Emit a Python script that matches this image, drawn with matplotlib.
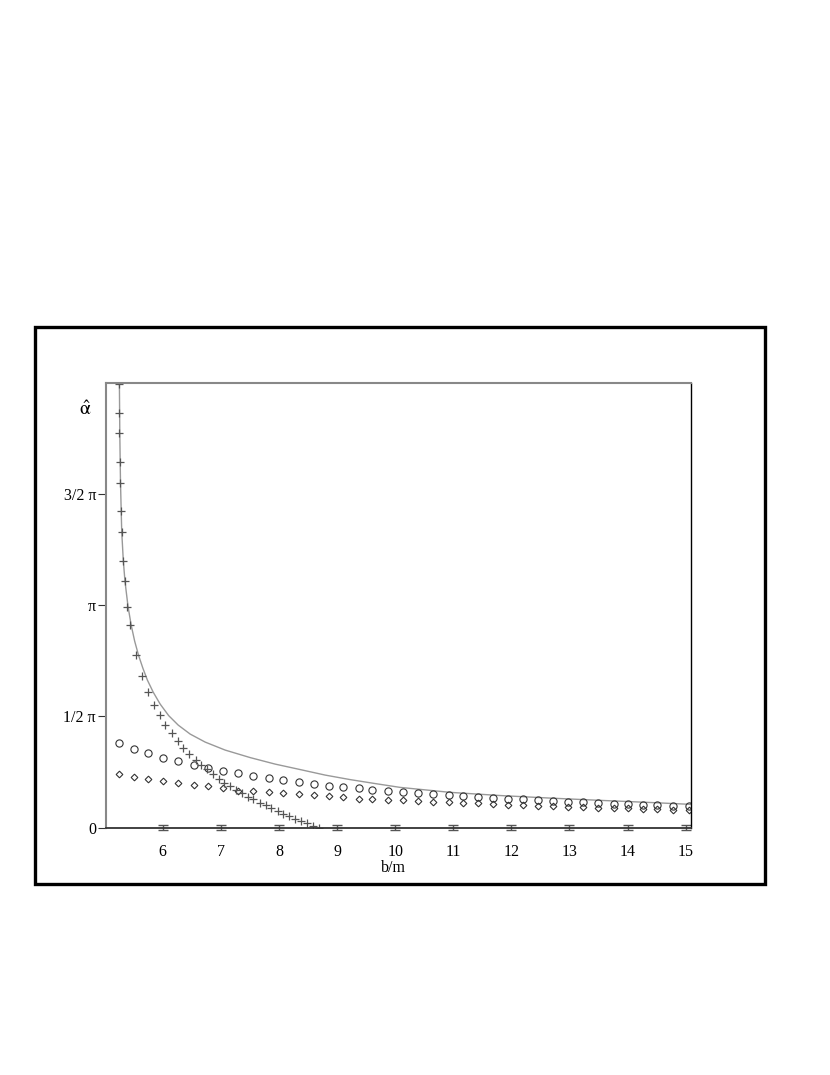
# -*- coding: utf-8 -*-
"""
Deflection angle vs impact parameter b/m : exact curve and approximations
"""
import numpy as np
import matplotlib
matplotlib.use('Agg')
import matplotlib.pyplot as plt
from matplotlib.patches import Rectangle

plt.rcParams['font.family'] = ['Liberation Serif', 'DejaVu Serif']
plt.rcParams['mathtext.fontset'] = 'stix'

'''Data read off the picture (b in units of m, alpha in rad)'''
curve_b = [5.252, 5.255, 5.262, 5.274, 5.295, 5.322, 5.351, 5.403, 5.458, 5.518,
           5.584, 5.659, 5.737, 5.837, 5.957, 6.103, 6.267, 6.473, 6.731, 7.075,
           7.505, 7.935, 8.365, 8.795, 9.226, 9.656, 10.086, 10.946, 11.806, 12.666,
           13.526, 14.386, 15.092]
curve_alpha = [6.60, 6.273, 5.568, 4.876, 4.184, 3.775, 3.479, 3.126, 2.858, 2.632,
               2.434, 2.251, 2.082, 1.912, 1.743, 1.581, 1.447, 1.320, 1.207, 1.094,
               0.988, 0.896, 0.819, 0.741, 0.677, 0.621, 0.567, 0.497, 0.452, 0.416,
               0.384, 0.354, 0.327]

cross_b = [5.252, 5.252, 5.252, 5.264, 5.269, 5.281, 5.298, 5.320, 5.343, 5.394,
           5.441, 5.539, 5.642, 5.751, 5.842, 5.948, 6.048, 6.155, 6.255, 6.353,
           6.461, 6.571, 6.667, 6.757, 6.869, 6.963, 7.063, 7.161, 7.264, 7.362,
           7.466, 7.562, 7.669, 7.772, 7.870, 7.978, 8.078, 8.181, 8.285, 8.388,
           8.491, 8.594, 8.687]
cross_alpha = [6.259, 5.854, 5.572, 5.168, 4.872, 4.467, 4.175, 3.771, 3.479, 3.122,
               2.858, 2.434, 2.142, 1.908, 1.736, 1.585, 1.451, 1.331, 1.217, 1.129,
               1.044, 0.955, 0.885, 0.823, 0.751, 0.692, 0.635, 0.586, 0.536, 0.484,
               0.437, 0.399, 0.353, 0.313, 0.278, 0.240, 0.195, 0.162, 0.124, 0.092,
               0.059, 0.025, 0.0]

approx_b = [5.24, 5.51, 5.75, 6.00, 6.27, 6.54, 6.78, 7.04, 7.30, 7.56,
            7.83, 8.07, 8.34, 8.61, 8.86, 9.10, 9.38, 9.61, 9.88, 10.13,
            10.40, 10.65, 10.92, 11.16, 11.42, 11.69, 11.94, 12.20, 12.45, 12.71,
            12.97, 13.24, 13.49, 13.76, 14.01, 14.26, 14.51, 14.78, 15.05]
circle_alpha = [1.193, 1.112, 1.051, 0.985, 0.934, 0.882, 0.844, 0.802, 0.765, 0.731,
                0.694, 0.666, 0.642, 0.618, 0.590, 0.572, 0.553, 0.533, 0.519, 0.501,
                0.487, 0.473, 0.459, 0.445, 0.430, 0.416, 0.406, 0.398, 0.384, 0.370,
                0.364, 0.356, 0.346, 0.336, 0.327, 0.322, 0.313, 0.308, 0.299]
diamond_alpha = [0.755, 0.717, 0.689, 0.656, 0.628, 0.600, 0.581, 0.557, 0.519, 0.511,
                 0.501, 0.487, 0.469, 0.454, 0.440, 0.426, 0.406, 0.402, 0.388, 0.384,
                 0.374, 0.364, 0.356, 0.346, 0.342, 0.332, 0.322, 0.318, 0.308, 0.299,
                 0.294, 0.289, 0.279, 0.275, 0.271, 0.265, 0.257, 0.251, 0.247]

xticks = [6, 7, 8, 9, 10, 11, 12, 13, 14, 15]
yticks = [0, np.pi / 2, np.pi, 1.5 * np.pi]
ytick_labels = ['0', '1/2 \u03c0', '\u03c0', '3/2 \u03c0']

'''Figure'''
fig = plt.figure(figsize=(8.3, 10.75), dpi=100)
fig.patches.append(Rectangle((0.0422, 0.1777), 0.8795, 0.5181, transform=fig.transFigure,
                             fill=False, edgecolor='black', linewidth=2.4))

ax = fig.add_axes([0.1283, 0.2302, 0.7046, 0.4138])
ax.plot(curve_b, curve_alpha, color='#999999', linewidth=1.0)
ax.plot(approx_b, circle_alpha, linestyle='none', marker='o', markersize=5.2,
        markerfacecolor='none', markeredgecolor='#333333', markeredgewidth=0.8)
ax.plot(approx_b, diamond_alpha, linestyle='none', marker='D', markersize=3.4,
        markerfacecolor='none', markeredgecolor='#333333', markeredgewidth=0.8)
ax.plot(cross_b, cross_alpha, linestyle='none', marker='+', markersize=6,
        color='#555555', markeredgewidth=0.9)

# I-shaped tick marks on the b axis
ax.errorbar(xticks, [0] * len(xticks), yerr=0.04, fmt='none', ecolor='#555555',
            elinewidth=1.0, capsize=3.5, capthick=1.0, clip_on=False)

ax.set_xlim(5.033, 15.096)
ax.set_ylim(0, 2 * np.pi)
ax.set_xticks(xticks)
ax.set_xticklabels([str(t) for t in xticks], fontsize=11.5)
ax.set_yticks(yticks)
ax.set_yticklabels(ytick_labels, fontsize=11.5)
ax.tick_params(axis='x', length=0, pad=12)
ax.tick_params(axis='y', length=6, width=0.8, pad=1.5, color='#333333')

ax.spines['left'].set_color('#888888')
ax.spines['left'].set_linewidth(1.5)
ax.spines['top'].set_color('#888888')
ax.spines['top'].set_linewidth(1.5)
ax.spines['right'].set_color('black')
ax.spines['right'].set_linewidth(1.0)
ax.spines['bottom'].set_color('#333333')
ax.spines['bottom'].set_linewidth(1.3)

ax.set_xlabel('b/m', fontsize=11.5)
ax.xaxis.set_label_coords(0.49, -0.073)
ax.set_ylabel(r'$\hat{\mathrm{\alpha}}$', fontsize=14, rotation=0, va='center', ha='center')
ax.yaxis.set_label_coords(-0.037, 0.939)

plt.savefig('out.png', dpi=100)
